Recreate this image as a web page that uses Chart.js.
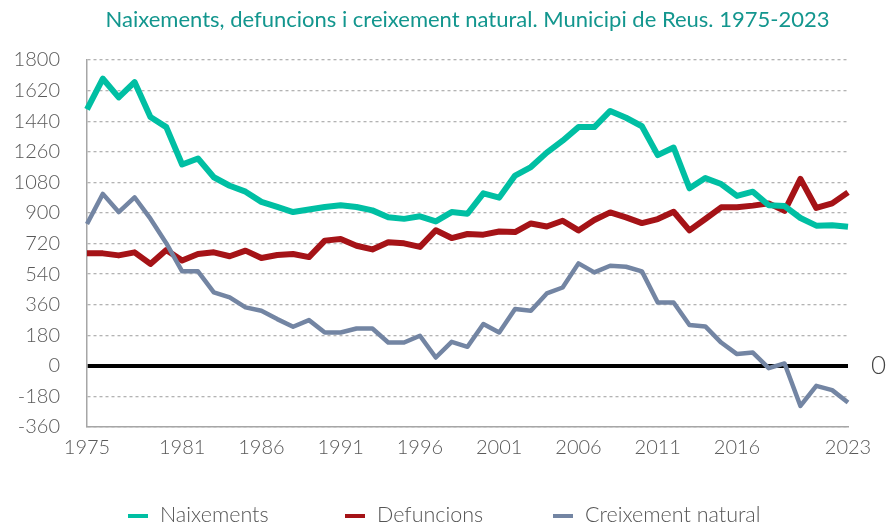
<!DOCTYPE html>
<html>
<head>
<meta charset="utf-8">
<script src="https://cdn.jsdelivr.net/npm/chart.js@4/dist/chart.umd.min.js"></script>
<style>
  html, body { margin: 0; padding: 0; background: #fff; }
  #wrap { width: 888px; height: 524px; }
</style>
</head>
<body>
<div id="wrap"><canvas id="myChart"></canvas></div>
<script>
// anys i valors llegits del gràfic
const years = ['1975','1976','1977','1978','1979','1980','1981','1982','1983','1984',
  '1985','1986','1987','1988','1989','1990','1991','1992','1993','1994',
  '1995','1996','1997','1998','1999','2000','2001','2002','2003','2004',
  '2005','2006','2007','2008','2009','2010','2011','2012','2013','2014',
  '2015','2016','2017','2018','2019','2020','2021','2022','2023'];

const naixements = [1510,1690,1580,1670,1465,1405,1185,1220,1110,1060,
  1025,965,935,905,920,935,945,935,915,875,
  865,880,850,905,895,1015,990,1120,1170,1255,
  1325,1405,1405,1500,1460,1410,1240,1285,1045,1105,
  1070,1000,1025,945,940,870,825,828,818];

const defuncions = [662,662,650,668,600,682,620,658,668,645,
  678,635,652,658,640,737,746,707,685,727,
  721,700,798,752,776,772,791,787,838,820,
  854,797,858,903,874,840,864,907,797,864,
  933,933,943,956,912,1100,929,956,1021];

const creixement = [835,1012,905,992,866,722,556,556,432,403,
  344,324,275,230,269,196,196,220,220,137,
  137,177,49,141,112,246,196,334,324,426,
  461,603,550,589,583,556,373,373,240,232,
  137,69,78,-14,14,-236,-118,-143,-216];

const shownYears = ['1975','1981','1986','1991','1996','2001','2006','2011','2016','2023'];
const seriesNames = ['Naixements', 'Defuncions', 'Creixement natural'];
const titleText = 'Naixements, defuncions i creixement natural. Municipi de Reus. 1975-2023';

const FONT = 'Lato, "Open Sans", sans-serif';

// titol, etiqueta "0" i llegenda dibuixats a mà
const extras = {
  id: 'extras',
  afterDraw(chart) {
    const c = chart.ctx;
    const area = chart.chartArea;
    const yScale = chart.scales.y;
    c.save();
    // titol
    c.fillStyle = '#13968e';
    c.font = '400 22px ' + FONT;
    c.textAlign = 'center';
    c.textBaseline = 'middle';
    c.fillText(titleText, (area.left + area.right) / 2, 20);
    // zero
    c.fillStyle = '#444';
    c.font = '300 26px ' + FONT;
    c.textAlign = 'left';
    c.fillText('0', area.right + 23, yScale.getPixelForValue(0));
    // llegenda
    const xs = [128, 345, 553];
    c.font = '300 21.5px ' + FONT;
    c.fillStyle = '#555';
    chart.data.datasets.forEach((ds, i) => {
      c.strokeStyle = ds.borderColor;
      c.lineWidth = 4;
      c.beginPath();
      c.moveTo(xs[i], 516);
      c.lineTo(xs[i] + 20, 516);
      c.stroke();
      c.fillText(ds.label, xs[i] + 32, 515);
    });
    c.restore();
  }
};

const ctx = document.getElementById('myChart');

new Chart(ctx, {
  type: 'line',
  data: {
    labels: years,
    datasets: [
      { label: seriesNames[0], data: naixements, borderColor: '#00bfa3', borderWidth: 6, order: 0 },
      { label: seriesNames[1], data: defuncions, borderColor: '#a51317', borderWidth: 6, order: 2 },
      { label: seriesNames[2], data: creixement, borderColor: '#7385a3', borderWidth: 4.5, order: 1 }
    ]
  },
  options: {
    responsive: true,
    maintainAspectRatio: false,
    animation: false,
    elements: {
      point: { radius: 0, hoverRadius: 0 },
      line: { tension: 0, borderJoinStyle: 'round', borderCapStyle: 'butt' }
    },
    layout: { padding: { top: 60, right: 40, left: 0, bottom: 0 } },
    plugins: {
      legend: { display: false },
      title: { display: false },
      tooltip: { enabled: false }
    },
    scales: {
      x: {
        grid: { display: false, drawTicks: false },
        border: { display: true, color: '#a6a6a6', width: 1.5 },
        afterFit: (scale) => { scale.height = 97; },
        ticks: {
          autoSkip: false,
          maxRotation: 0,
          padding: 9,
          color: '#595959',
          font: { family: FONT, size: 20, weight: '300' },
          callback: function (val) {
            const lab = this.getLabelForValue(val);
            return shownYears.includes(lab) ? lab : '';
          }
        }
      },
      y: {
        min: -360,
        max: 1800,
        afterFit: (scale) => { scale.width = 87; },
        grid: {
          drawTicks: false,
          color: (c) => (c.tick && c.tick.value === 0) ? '#000' : '#b3b3b3',
          lineWidth: (c) => (c.tick && c.tick.value === 0) ? 4 : 1.3
        },
        border: {
          display: true,
          color: '#a6a6a6',
          width: 1.5,
          dash: (c) => (c.tick && c.tick.value === 0) ? [] : [3, 3]
        },
        ticks: {
          stepSize: 180,
          padding: 27,
          color: '#595959',
          font: { family: FONT, size: 20, weight: '300' },
          callback: (v) => String(v)
        }
      }
    }
  },
  plugins: [extras]
});
</script>
</body>
</html>
